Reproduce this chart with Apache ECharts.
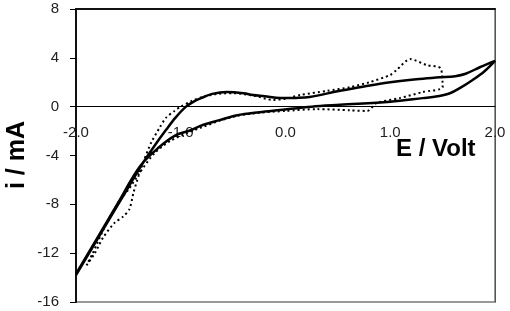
<!DOCTYPE html>
<html>
<head>
<meta charset="utf-8">
<script src="https://cdn.jsdelivr.net/npm/echarts@6/dist/echarts.min.js"></script>
<style>html,body{margin:0;padding:0;background:#fff}#c{width:510px;height:311px}</style>
</head>
<body>
<div id="c"></div>
<script>
// Axis settings / tick labels
const xTicks = [-2.0, -1.0, 0.0, 1.0, 2.0];
const yTicks = [-16, -12, -8, -4, 0, 4, 8];
const xTitle = 'E / Volt';
const yTitle = 'i / mA';

// Solid CV loop: upper branch (-2 -> 2), then lower branch (2 -> -2)
const solidE = [-2.0,-1.75,-1.5,-1.36,-1.25,-1.14,-1.05,-0.95,-0.86,-0.79,-0.7,-0.56,-0.4,-0.31,-0.2,-0.05,0.1,0.23,0.52,0.75,1.0,1.25,1.47,1.62,1.72,1.86,2.0,
                1.9,1.79,1.68,1.57,1.45,1.31,1.0,0.52,0.25,-0.05,-0.25,-0.46,-0.63,-0.79,-0.91,-1.05,-1.21,-1.39,-1.6,-1.8,-2.0];
const solidI = [-13.8,-10.2,-6.6,-4.6,-3.2,-1.9,-0.9,0.0,0.5,0.75,1.05,1.2,1.1,0.95,0.85,0.7,0.72,0.8,1.3,1.65,2.0,2.25,2.4,2.5,2.7,3.25,3.75,
                2.9,2.2,1.6,1.1,0.85,0.7,0.4,0.15,0.0,-0.27,-0.45,-0.7,-1.1,-1.5,-1.95,-2.35,-3.35,-4.9,-7.9,-10.8,-13.7];

// Dotted CV loop
const dotE = [-1.9,-1.82,-1.74,-1.63,-1.55,-1.49,-1.45,-1.4,-1.36,-1.28,-1.2,-1.14,-1.06,-1.0,-0.9,-0.79,-0.65,-0.5,-0.3,-0.12,0.0,0.14,0.4,0.62,0.8,1.0,1.06,1.19,1.35,1.48,1.5,
              1.31,1.09,0.87,0.78,0.62,0.3,0.0,-0.25,-0.46,-0.63,-0.8,-0.95,-1.1,-1.25,-1.4,-1.5,-1.59,-1.74,-1.84,-1.9];
const dotI = [-13.0,-12.0,-10.7,-9.5,-9.0,-8.4,-7.0,-5.6,-4.6,-2.9,-1.7,-0.9,-0.35,0.0,0.45,0.8,1.05,1.1,0.9,0.55,0.65,0.95,1.3,1.6,2.0,2.6,3.0,3.9,3.4,3.15,1.6,
              1.2,0.7,0.3,-0.35,-0.3,-0.2,-0.35,-0.5,-0.75,-1.15,-1.7,-2.2,-2.8,-3.8,-5.5,-6.8,-7.75,-10.1,-12.0,-13.0];

const pairs = (xs, ys) => xs.map((x, i) => [x, ys[i]]);
const FONT = '"Liberation Sans", Arial, sans-serif';

const G_TOP = 9, G_BOTTOM = 9, H = 311;
const plotH = H - G_TOP - G_BOTTOM;
const yMin = yTicks[0], yMax = yTicks[yTicks.length - 1];
const zeroOffset = -plotH * (0 - yMin) / (yMax - yMin); // move x axis up to i = 0

const chart = echarts.init(document.getElementById('c'), null, {renderer: 'canvas'});
chart.setOption({
  animation: false,
  backgroundColor: '#fff',
  grid: {left: 76, right: 15, top: G_TOP, bottom: G_BOTTOM, containLabel: false, outerBoundsMode: 'none',
         show: true, borderColor: '#777', borderWidth: 1.5, backgroundColor: 'transparent'},
  xAxis: [{
    type: 'value', min: xTicks[0], max: xTicks[xTicks.length - 1], interval: 1,
    position: 'bottom', offset: zeroOffset,
    axisLine: {onZero: false, lineStyle: {color: '#000', width: 1}},
    axisTick: {show: false},
    axisLabel: {margin: 19, fontSize: 15, color: '#222', fontFamily: FONT, formatter: v => v.toFixed(1),
                showMinLabel: true, showMaxLabel: true},
    splitLine: {show: false}
  }, {
    type: 'value', position: 'top', min: -2, max: 2,
    axisLine: {onZero: false, lineStyle: {color: '#111', width: 2}},
    axisTick: {show: false}, axisLabel: {show: false}, splitLine: {show: false}
  }],
  yAxis: [{
    type: 'value', min: yMin, max: yMax, interval: 4,
    axisLine: {show: true, onZero: false, lineStyle: {color: '#111', width: 2}},
    axisTick: {show: true, length: 6, lineStyle: {color: '#000', width: 1}},
    axisLabel: {margin: 17, fontSize: 15, color: '#222', fontFamily: FONT, showMinLabel: true, showMaxLabel: true},
    splitLine: {show: false}
  }, {
    type: 'value', position: 'right', min: yMin, max: yMax,
    axisLine: {show: true, onZero: false, lineStyle: {color: '#555', width: 1}},
    axisTick: {show: false}, axisLabel: {show: false}, splitLine: {show: false}
  }],
  graphic: [
    {type: 'text', left: 396, top: 137, style: {text: xTitle, font: 'bold 24px ' + FONT, fill: '#000'}},
    {type: 'text', x: 17, y: 155, rotation: Math.PI / 2, style: {text: yTitle, font: 'bold 25px ' + FONT, fill: '#000', textAlign: 'center', textVerticalAlign: 'middle'}}
  ],
  series: [{
    type: 'line', data: pairs(dotE, dotI), showSymbol: false, smooth: 0.25,
    lineStyle: {color: '#000', width: 2, type: [2, 3]}
  }, {
    type: 'line', data: pairs(solidE, solidI), showSymbol: false, smooth: 0.35,
    lineStyle: {color: '#000', width: 2.5}
  }]
});
</script>
</body>
</html>
